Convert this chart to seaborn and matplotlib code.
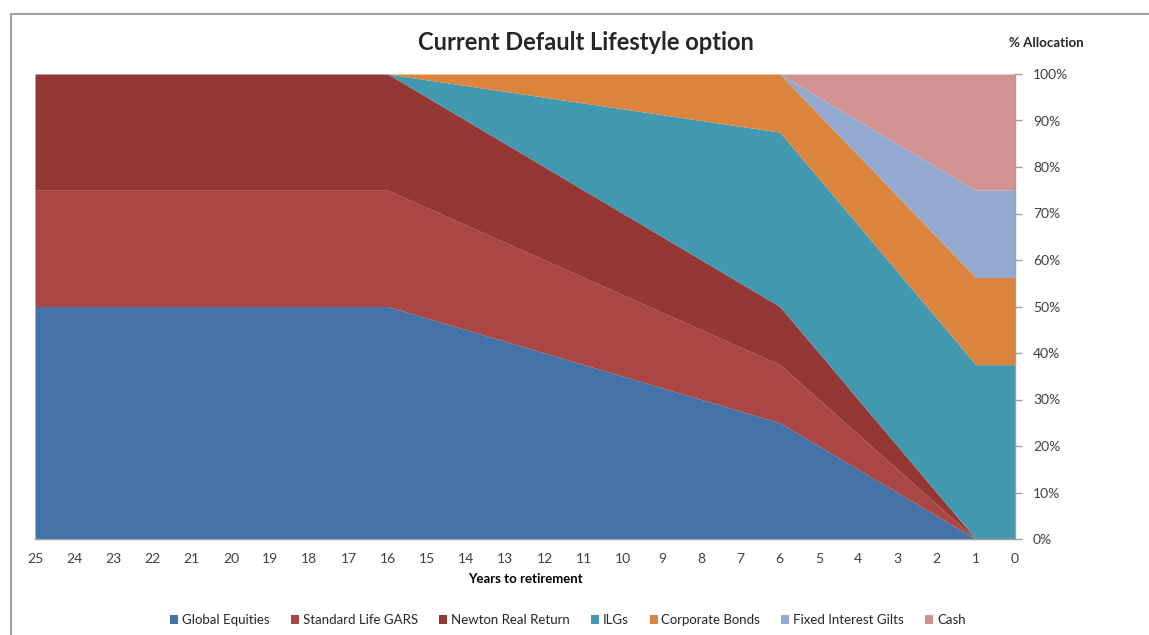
import numpy as np
import pandas as pd
import matplotlib
matplotlib.use("Agg")
import matplotlib.pyplot as plt
import seaborn as sns
from matplotlib.lines import Line2D
from matplotlib.patches import Patch
from matplotlib.ticker import FuncFormatter

sns.set_theme(style="white")
plt.rcParams["font.family"] = ["Lato", "DejaVu Sans"]

# years to retirement, left to right
years = list(range(25, -1, -1))

global_equities = [50] * 10 + [47.5, 45, 42.5, 40, 37.5, 35, 32.5, 30, 27.5, 25,
                               20, 15, 10, 5, 0, 0]
sl_gars = [25] * 10 + [23.75, 22.5, 21.25, 20, 18.75, 17.5, 16.25, 15, 13.75, 12.5,
                       10, 7.5, 5, 2.5, 0, 0]
newton = [25] * 10 + [23.75, 22.5, 21.25, 20, 18.75, 17.5, 16.25, 15, 13.75, 12.5,
                      10, 7.5, 5, 2.5, 0, 0]
ilgs = [0] * 10 + [3.75, 7.5, 11.25, 15, 18.75, 22.5, 26.25, 30, 33.75, 37.5,
                   37.5, 37.5, 37.5, 37.5, 37.5, 37.5]
corp_bonds = [0] * 10 + [1.25, 2.5, 3.75, 5, 6.25, 7.5, 8.75, 10, 11.25, 12.5,
                         13.75, 15, 16.25, 17.5, 18.75, 18.75]
fixed_gilts = [0] * 20 + [3.75, 7.5, 11.25, 15, 18.75, 18.75]
cash = [0] * 20 + [5, 10, 15, 20, 25, 25]

labels = ["Global Equities", "Standard Life GARS", "Newton Real Return", "ILGs",
          "Corporate Bonds", "Fixed Interest Gilts", "Cash"]
colors = ["#4572A7", "#AA4643", "#953735", "#4198AF", "#DB843D", "#93A9CF", "#D19392"]

df = pd.DataFrame({"year": years, labels[0]: global_equities, labels[1]: sl_gars,
                   labels[2]: newton, labels[3]: ilgs, labels[4]: corp_bonds,
                   labels[5]: fixed_gilts, labels[6]: cash})

fig = plt.figure(figsize=(11.49, 6.35), dpi=100)
ax = fig.add_axes([35 / 1149, 1 - 539 / 635, 980 / 1149, 465 / 635])

ax.stackplot(df["year"], *[df[c] for c in labels], colors=colors,
             labels=labels, linewidth=0)

ax.set_xlim(25, 0)
ax.set_ylim(0, 100)
ax.set_xticks(years)
ax.set_yticks(range(0, 101, 10))
ax.yaxis.tick_right()
ax.yaxis.set_major_formatter(FuncFormatter(lambda v, p: f"{v:.0f}%"))
ax.tick_params(axis="both", which="major", length=5, width=1, color="#A0A0A0",
               labelsize=10, labelcolor="#404040", direction="out")
ax.tick_params(axis="x", pad=5)
ax.tick_params(axis="y", pad=8)
for side in ["top", "left"]:
    ax.spines[side].set_visible(False)
for side in ["bottom", "right"]:
    ax.spines[side].set_color("#A0A0A0")
    ax.spines[side].set_linewidth(1)

ax.set_xlabel("Years to retirement", fontsize=9.5, fontweight="bold",
              color="#000000", labelpad=6)

fig.text(586 / 1149, 1 - 43 / 635, "Current Default Lifestyle option",
         fontsize=17, fontweight="bold", ha="center", va="center")
fig.text(1046 / 1149, 1 - 43 / 635, "% Allocation", fontsize=9.5,
         fontweight="bold", ha="center", va="center")

handles = [Patch(facecolor=c, edgecolor="none") for c in colors]
fig.legend(handles, labels, ncol=7, frameon=False, loc="center",
           bbox_to_anchor=(568 / 1149, 1 - 620 / 635), fontsize=9.5,
           handlelength=0.6, handleheight=0.6, handletextpad=0.3,
           columnspacing=1.6)

# outer chart border (top and left edges only are in view)
top_y = 1 - 14 / 635
left_x = 10.5 / 1149
fig.add_artist(Line2D([left_x, 1.0], [top_y, top_y], transform=fig.transFigure,
                      color="#A0A0A0", linewidth=1.5))
fig.add_artist(Line2D([left_x, left_x], [0.0, top_y], transform=fig.transFigure,
                      color="#A0A0A0", linewidth=1.5))

fig.savefig("out.png", dpi=100)
